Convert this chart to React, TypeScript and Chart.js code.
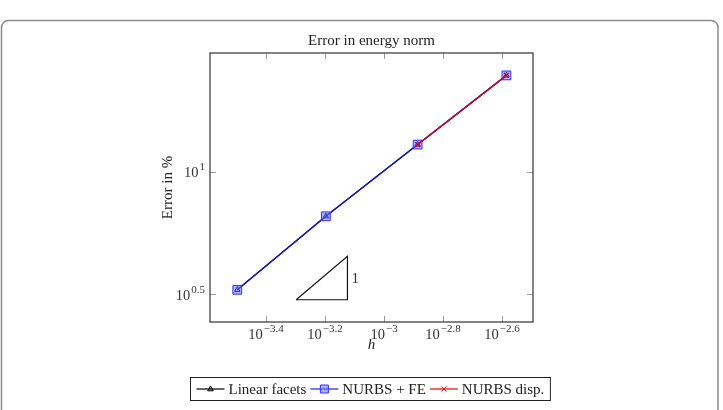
import React, { useEffect, useRef } from 'react';
import { Chart, registerables } from 'chart.js';

Chart.register(...registerables);

// ---- data ----
const hValues = [3.18e-4, 6.35e-4, 1.3e-3, 2.6e-3];
const linearFacetsErr = [3.3, 6.59, 12.94, 24.8];
const nurbsFeErr = [3.3, 6.59, 12.94, 24.8];
const nurbsDispH = [1.3e-3, 2.6e-3];
const nurbsDispErr = [12.94, 24.8];
const slopeTriH = [5.035e-4, 7.516e-4, 7.516e-4, 5.035e-4];
const slopeTriErr = [3.006, 3.006, 4.519, 3.006];
const slopeLabel = '1';
const xTickExps = [-3.4, -3.2, -3, -2.8, -2.6];
const yTickExps = [0.5, 1];
const xRangeExp = [-3.59, -2.495];
const yRangeExp = [0.387, 1.486];
const titleText = 'Error in energy norm';
const xTitle = 'h';
const yTitle = 'Error in %';
const legendLabels = ['Linear facets', 'NURBS + FE', 'NURBS disp.'];

const FONT = '"Liberation Serif", "Times New Roman", serif';
const BLUE = 'rgb(20,20,200)';
const RED = 'rgb(200,10,40)';
const BLACK = 'rgb(0,0,0)';

const fmtExp = (e: number) => String(e).replace('-', '\u2212');

function drawPow(ctx: CanvasRenderingContext2D, exp: number, x: number, yBase: number, align: 'center' | 'right') {
  const base = '10';
  const sup = fmtExp(exp);
  ctx.font = `14.5px ${FONT}`;
  const wb = ctx.measureText(base).width;
  ctx.font = `11px ${FONT}`;
  const ws = ctx.measureText(sup).width;
  const gap = 1;
  const total = wb + gap + ws;
  const left = align === 'center' ? x - total / 2 : x - total;
  ctx.textAlign = 'left';
  ctx.textBaseline = 'alphabetic';
  ctx.fillStyle = '#333';
  ctx.font = `14.5px ${FONT}`;
  ctx.fillText(base, left, yBase);
  ctx.font = `11px ${FONT}`;
  ctx.fillText(sup, left + wb + gap, yBase - 7);
}

const decorPlugin = {
  id: 'decor',
  beforeDatasetsDraw(chart: any) {
    const ctx: CanvasRenderingContext2D = chart.ctx;
    const { left, right, top, bottom } = chart.chartArea;
    const xs = chart.scales.x;
    const ys = chart.scales.y;
    ctx.save();
    // outer rounded frame
    ctx.strokeStyle = '#8a8a8a';
    ctx.lineWidth = 1.5;
    ctx.beginPath();
    (ctx as any).roundRect(1.5, 20.5, 716.5, 420, 7);
    ctx.stroke();
    // ticks
    ctx.strokeStyle = '#9a9a9a';
    ctx.lineWidth = 1;
    const tl = 6;
    ctx.beginPath();
    for (const e of xTickExps) {
      const px = Math.round(xs.getPixelForValue(10 ** e)) + 0.5;
      ctx.moveTo(px, bottom);
      ctx.lineTo(px, bottom - tl);
      ctx.moveTo(px, top);
      ctx.lineTo(px, top + tl);
    }
    for (const e of yTickExps) {
      const py = Math.round(ys.getPixelForValue(10 ** e)) + 0.5;
      ctx.moveTo(left, py);
      ctx.lineTo(left + tl, py);
      ctx.moveTo(right, py);
      ctx.lineTo(right - tl, py);
    }
    ctx.stroke();
    ctx.restore();
  },
  afterDraw(chart: any) {
    const ctx: CanvasRenderingContext2D = chart.ctx;
    const { left, right, top, bottom } = chart.chartArea;
    const xs = chart.scales.x;
    const ys = chart.scales.y;
    ctx.save();
    // plot frame
    ctx.strokeStyle = '#333';
    ctx.lineWidth = 1.2;
    ctx.strokeRect(left, top, right - left, bottom - top);

    // tick labels
    for (const e of xTickExps) {
      drawPow(ctx, e, xs.getPixelForValue(10 ** e), bottom + 17, 'center');
    }
    for (const e of yTickExps) {
      drawPow(ctx, e, left - 5, ys.getPixelForValue(10 ** e) + 5.5, 'right');
    }

    // titles
    ctx.fillStyle = '#222';
    ctx.textAlign = 'center';
    ctx.textBaseline = 'alphabetic';
    ctx.font = `15px ${FONT}`;
    ctx.fillText(titleText, (left + right) / 2, 45);
    ctx.font = `italic 15px ${FONT}`;
    ctx.fillText(xTitle, (left + right) / 2, bottom + 27);
    ctx.save();
    ctx.translate(172, (top + bottom) / 2);
    ctx.rotate(-Math.PI / 2);
    ctx.font = `15px ${FONT}`;
    ctx.fillText(yTitle, 0, 0);
    ctx.restore();

    // slope label
    const sx = xs.getPixelForValue(slopeTriH[1]);
    const sy = (ys.getPixelForValue(slopeTriErr[1]) + ys.getPixelForValue(slopeTriErr[2])) / 2;
    ctx.textAlign = 'left';
    ctx.font = `15px ${FONT}`;
    ctx.fillStyle = '#333';
    ctx.fillText(slopeLabel, sx + 4, sy + 5);

    // legend
    const ds = chart.data.datasets;
    ctx.font = `15px ${FONT}`;
    const sample = 28;
    const padL = 6, padR = 6, gapT = 4, gapI = 4;
    const widths = legendLabels.map((t) => ctx.measureText(t).width);
    let total = padL + padR;
    widths.forEach((w, i) => {
      total += sample + gapT + w + (i < widths.length - 1 ? gapI : 0);
    });
    const cx = 369.5;
    const bx = Math.round(cx - total / 2) + 0.5;
    const by = 377.5;
    const bh = 23;
    ctx.strokeStyle = '#222';
    ctx.lineWidth = 1;
    ctx.strokeRect(bx, by, total, bh);
    let x = bx + padL;
    const ly = by + bh / 2;
    const legendLine = [BLACK, 'rgb(30,30,230)', 'rgb(235,0,0)'];
    legendLabels.forEach((t, i) => {
      const d = ds[i];
      ctx.strokeStyle = legendLine[i];
      ctx.lineWidth = 1.2;
      ctx.beginPath();
      ctx.moveTo(x, ly);
      ctx.lineTo(x + sample, ly);
      ctx.stroke();
      const mx = x + sample / 2;
      ctx.strokeStyle = i === 2 ? 'rgb(235,0,0)' : d.pointBorderColor;
      ctx.fillStyle = d.pointBackgroundColor;
      ctx.lineWidth = 1;
      ctx.beginPath();
      if (d.pointStyle === 'triangle') {
        ctx.moveTo(mx, ly - 3);
        ctx.lineTo(mx + 2.8, ly + 1.8);
        ctx.lineTo(mx - 2.8, ly + 1.8);
        ctx.closePath();
        ctx.fill();
        ctx.stroke();
      } else if (d.pointStyle === 'rect') {
        ctx.rect(mx - 4, ly - 4, 8, 8);
        ctx.fill();
        ctx.stroke();
      } else {
        ctx.moveTo(mx - 2.5, ly - 2.5);
        ctx.lineTo(mx + 2.5, ly + 2.5);
        ctx.moveTo(mx + 2.5, ly - 2.5);
        ctx.lineTo(mx - 2.5, ly + 2.5);
        ctx.stroke();
      }
      ctx.fillStyle = '#222';
      ctx.textAlign = 'left';
      ctx.fillText(t, x + sample + gapT, ly + 4.5);
      x += sample + gapT + widths[i] + gapI;
    });
    ctx.restore();
  },
};

export default function App() {
  const ref = useRef<HTMLCanvasElement | null>(null);
  useEffect(() => {
    if (!ref.current) return;
    const pts = (xs: number[], ys: number[]) => xs.map((x, i) => ({ x, y: ys[i] }));
    const chart = new Chart(ref.current, {
      type: 'scatter',
      data: {
        datasets: [
          {
            label: legendLabels[0],
            data: pts(hValues, linearFacetsErr),
            showLine: true,
            borderColor: BLACK,
            borderWidth: 1.2,
            pointStyle: 'triangle',
            pointRadius: 3.2,
            pointBorderColor: BLACK,
            pointBackgroundColor: 'rgba(0,0,0,0.25)',
            pointBorderWidth: 1,
            order: 3,
          },
          {
            label: legendLabels[1],
            data: pts(hValues, nurbsFeErr),
            showLine: true,
            borderColor: BLUE,
            borderWidth: 1.4,
            pointStyle: 'rect',
            pointRadius: 6.2,
            pointBorderColor: 'rgb(50,50,255)',
            pointBackgroundColor: 'rgba(110,110,255,0.55)',
            pointBorderWidth: 1,
            order: 2,
          },
          {
            label: legendLabels[2],
            data: pts(nurbsDispH, nurbsDispErr),
            showLine: true,
            borderColor: RED,
            borderWidth: 1.4,
            pointStyle: 'crossRot',
            pointRadius: 3.5,
            pointBorderColor: 'rgb(220,0,20)',
            pointBackgroundColor: 'rgb(220,0,20)',
            pointBorderWidth: 1.2,
            order: 1,
          },
          {
            label: 'slope',
            data: pts(slopeTriH, slopeTriErr),
            showLine: true,
            borderColor: '#111',
            borderWidth: 1.2,
            pointRadius: 0,
            order: 4,
          },
        ],
      },
      options: {
        responsive: false,
        animation: false,
        layout: { padding: { left: 210, right: 723 - 533, top: 53, bottom: 410 - 322 } },
        plugins: { legend: { display: false }, title: { display: false }, tooltip: { enabled: false } },
        scales: {
          x: { type: 'logarithmic', display: false, min: 10 ** xRangeExp[0], max: 10 ** xRangeExp[1] },
          y: { type: 'logarithmic', display: false, min: 10 ** yRangeExp[0], max: 10 ** yRangeExp[1] },
        },
      },
      plugins: [decorPlugin],
    });
    return () => chart.destroy();
  }, []);
  return (
    <div style={{ position: 'fixed', left: 0, top: 0, width: 723, height: 410, background: '#fff' }}>
      <canvas ref={ref} width={723} height={410} style={{ display: 'block' }} />
    </div>
  );
}
